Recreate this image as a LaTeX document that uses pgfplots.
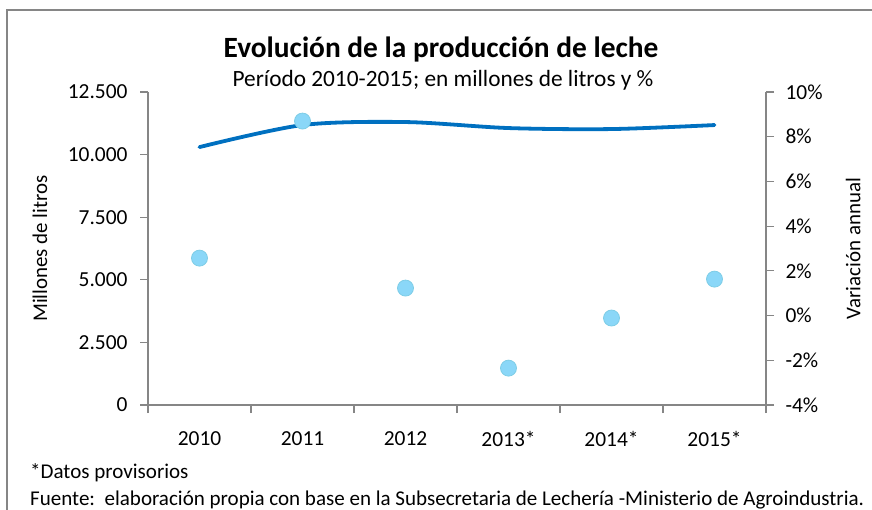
\documentclass[border=0pt]{standalone}
\usepackage{fontspec}
\setmainfont{Carlito}
\usepackage{pgfplots}
\pgfplotsset{compat=1.18}

\definecolor{linecol}{HTML}{0070C0}
\definecolor{dotfill}{HTML}{8AD7F8}
\definecolor{dotdraw}{HTML}{7ECDE6}
\definecolor{axcol}{HTML}{868686}

\begin{document}
\begin{tikzpicture}[x=1bp,y=1bp]
  \useasboundingbox (0,0) rectangle (872,-510);
  \draw[axcol, line width=1.6bp] (7,-510) -- (7,-10) -- (872,-10);

  \node[font=\fontsize{29.5}{34}\selectfont\bfseries, anchor=base] at (441,-58) {Evolución de la producción de leche};
  \node[font=\fontsize{23.4}{27}\selectfont, anchor=base] at (443,-87) {Período 2010-2015; en millones de litros y \%};
  \node[font=\fontsize{21.1}{24}\selectfont, anchor=base west, inner sep=0] at (30,-478) {*Datos provisorios};
  \node[font=\fontsize{21.1}{24}\selectfont, anchor=base west, inner sep=0] at (30,-505) {Fuente:\ \ elaboración propia con base en la Subsecretaria de Lechería -Ministerio de Agroindustria.};

  % produccion (eje izquierdo)
  \begin{axis}[
    at={(148bp,-405bp)}, anchor=south west,
    scale only axis, width=618bp, height=313bp,
    xmin=-0.5, xmax=5.5, ymin=0, ymax=12500,
    axis y line*=left, axis x line*=bottom,
    axis line style={axcol, line width=1.2bp, -},
    tick style={axcol, line width=1.2bp},
    major tick length=8bp, tick align=outside,
    xtick={-0.5,0.5,...,5.5},
    x tick label as interval,
    xticklabels={2010,2011,2012,2013*,2014*,2015*},
    xticklabel style={yshift=-15bp},
    scaled y ticks=false,
    ytick={0,2500,5000,7500,10000,12500},
    yticklabels={0,2.500,5.000,7.500,10.000,12.500},
    yticklabel style={xshift=-9bp},
    tick label style={font=\fontsize{21.5}{25}\selectfont, text=black},
    ylabel={Millones de litros},
    ylabel style={font=\fontsize{21}{25}\selectfont, at={(axis description cs:-0.175,0.5)}, anchor=center},
    clip=false,
  ]
  \addplot[linecol, line width=3.8bp, smooth, line cap=round] coordinates {
    (0,10300) (1,11180) (2,11300) (3,11060) (4,11020) (5,11180)
  };
  \end{axis}

  % variacion anual (eje derecho)
  \begin{axis}[
    at={(148bp,-405bp)}, anchor=south west,
    scale only axis, width=618bp, height=313bp,
    xmin=-0.5, xmax=5.5, ymin=-4, ymax=10,
    axis y line*=right, axis x line=none,
    axis line style={axcol, line width=1.2bp, -},
    tick style={axcol, line width=1.2bp},
    major tick length=8bp, tick align=outside,
    ytick={-4,-2,0,2,4,6,8,10},
    yticklabels={-4\%,-2\%,0\%,2\%,4\%,6\%,8\%,10\%},
    yticklabel style={xshift=8bp},
    tick label style={font=\fontsize{21.5}{25}\selectfont, text=black},
    ylabel={Variación annual},
    ylabel style={font=\fontsize{21}{25}\selectfont, at={(axis description cs:1.141,0.5)}, anchor=center},
    clip=false,
  ]
  \addplot[only marks, mark=*, mark size=8bp,
    mark options={fill=dotfill, draw=dotdraw, line width=0.8bp}] coordinates {
    (0,2.57) (1,8.70) (2,1.23) (3,-2.35) (4,-0.11) (5,1.63)
  };
  \end{axis}
\end{tikzpicture}
\end{document}
